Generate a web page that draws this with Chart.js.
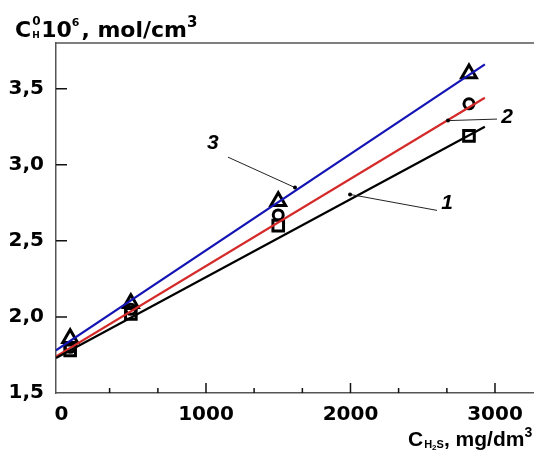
<!DOCTYPE html>
<html lang="en">
  <head>
    <meta charset="UTF-8" />
    <title>C0H vs CH2S</title>
    <script src="https://cdn.jsdelivr.net/npm/chart.js@4"></script>
    <style>
      body { margin: 0; background: #fff; }
      #wrap { width: 534px; height: 464px; }
    </style>
  </head>
  <body>
    <div id="wrap"><canvas id="chart"></canvas></div>
  </body>
  <script>
    // concentration of H2S, mg/dm3
    const concX = [60, 480, 1500, 2820];
    // C0H * 10^6, mol/cm3
    const series1 = [1.78, 2.02, 2.60, 3.19]; // squares
    const series2 = [1.80, 2.05, 2.67, 3.40]; // circles
    const series3 = [1.86, 2.09, 2.76, 3.60]; // triangles
    // fitted straight lines, endpoints
    const fitX = [-38, 2930];
    const fit1 = [1.73, 3.25];
    const fit2 = [1.74, 3.44];
    const fit3 = [1.78, 3.66];

    const xTicks = [0, 1000, 2000, 3000];
    const xMinor = [333, 667, 1333, 1667, 2333, 2667];
    const yTicks = [1.5, 2.0, 2.5, 3.0, 3.5];

    // curve labels: [text, labelX, labelY, dotX, dotY, endX, endY]
    const curveLabels = [
      ["3", 1048, 3.14, 1616, 2.85, 1152, 3.05],
      ["2", 3083, 3.31, 2675, 3.29, 3014, 3.30],
      ["1", 2668, 2.75, 1997, 2.805, 2599, 2.70],
    ];

    const pts = (xs, ys) => xs.map((x, i) => ({x: x, y: ys[i]}));

    function richText(ctx, x, y, family, parts) {
      for (const p of parts) {
        if (p.stack) {
          ctx.font = "bold 12px " + family;
          ctx.fillText(p.sup, x + 1, y - 12);
          ctx.font = "bold 9px " + family;
          ctx.fillText(p.sub, x + 1, y + 1);
          x += 10;
          continue;
        }
        ctx.font = "bold " + (p.size || 20) + "px " + family;
        ctx.fillText(p.t, x, y + (p.dy || 0));
        x += ctx.measureText(p.t).width + (p.gap || 0);
      }
    }

    const decor = {
      id: "decor",
      afterDatasetsDraw(chart) {
        const {ctx, chartArea: a, scales: {x, y}} = chart;
        ctx.save();
        // top frame line
        ctx.strokeStyle = "#555";
        ctx.lineWidth = 1.5;
        ctx.beginPath();
        ctx.moveTo(a.left, a.top);
        ctx.lineTo(a.right, a.top);
        ctx.stroke();
        // inward ticks
        ctx.strokeStyle = "#111";
        ctx.lineWidth = 1.5;
        ctx.beginPath();
        xTicks.slice(1).forEach((v) => {
          const px = x.getPixelForValue(v);
          ctx.moveTo(px, a.bottom);
          ctx.lineTo(px, a.bottom - 10);
        });
        xMinor.forEach((v) => {
          const px = x.getPixelForValue(v);
          ctx.moveTo(px, a.bottom);
          ctx.lineTo(px, a.bottom - 5);
        });
        yTicks.slice(1).forEach((v) => {
          const py = y.getPixelForValue(v);
          ctx.moveTo(a.left, py);
          ctx.lineTo(a.left + 11, py);
        });
        ctx.stroke();

        // curve labels with leader lines
        ctx.fillStyle = "#000";
        ctx.strokeStyle = "#222";
        ctx.lineWidth = 1;
        ctx.textAlign = "center";
        ctx.textBaseline = "middle";
        ctx.font = "italic bold 21px 'Liberation Sans'";
        curveLabels.forEach(([t, lx, ly, dx, dy, ex, ey]) => {
          const d = [x.getPixelForValue(dx), y.getPixelForValue(dy)];
          ctx.beginPath();
          ctx.moveTo(d[0], d[1]);
          ctx.lineTo(x.getPixelForValue(ex), y.getPixelForValue(ey));
          ctx.stroke();
          ctx.beginPath();
          ctx.arc(d[0], d[1], 2, 0, Math.PI * 2);
          ctx.fill();
          ctx.fillText(t, x.getPixelForValue(lx), y.getPixelForValue(ly));
        });

        // axis titles
        ctx.textAlign = "left";
        ctx.textBaseline = "alphabetic";
        richText(ctx, 15, 37, "'DejaVu Sans'", [
          {t: "C", size: 22},
          {stack: true, sup: "0", sub: "H"},
          {t: "10", size: 22},
          {t: "6", size: 11, dy: -11, gap: 2},
          {t: ", mol/cm", size: 22},
          {t: "3", size: 15, dy: -10},
        ]);
        richText(ctx, 408, 446, "'Liberation Sans'", [
          {t: "C", size: 21, gap: 1},
          {t: "H", size: 11, dy: 2},
          {t: "2", size: 8, dy: 4},
          {t: "S", size: 11, dy: 2},
          {t: ", mg/dm", size: 21},
          {t: "3", size: 14, dy: -9},
        ]);
        ctx.restore();
      },
    };

    const markerSet = (data, style, r) => ({
      data: data,
      pointStyle: style,
      pointRadius: r,
      borderColor: "#000",
      backgroundColor: "rgba(0,0,0,0)",
      pointBorderWidth: 3,
      showLine: false,
      order: 2,
    });
    const fitSet = (data, color) => ({
      data: data,
      borderColor: color,
      borderWidth: 2.2,
      pointRadius: 0,
      showLine: true,
      order: 1,
    });

    new Chart(document.getElementById("chart"), {
      type: "scatter",
      data: {
        datasets: [
          markerSet(pts(concX, series1), "rect", 7.5),
          markerSet(pts(concX, series2), "circle", 5),
          markerSet(pts(concX, series3), "triangle", 8.5),
          fitSet(pts(fitX, fit1), "#000000"),
          fitSet(pts(fitX, fit2), "#d42a2a"),
          fitSet(pts(fitX, fit3), "#1414b4"),
        ],
      },
      options: {
        responsive: true,
        maintainAspectRatio: false,
        animation: false,
        layout: {autoPadding: false, padding: {top: 43, right: 0, left: 0, bottom: 0}},
        plugins: {legend: {display: false}, tooltip: {enabled: false}},
        scales: {
          x: {
            type: "linear",
            min: -38,
            max: 3270,
            afterBuildTicks: (s) => { s.ticks = xTicks.map((v) => ({value: v})); },
            afterFit: (s) => { s.height = 71; s.paddingRight = 0; s.paddingLeft = 0; },
            grid: {display: false},
            border: {color: "#555", width: 1.5},
            ticks: {
              color: "#000",
              padding: 2,
              maxRotation: 0,
              font: {family: "DejaVu Sans", weight: "bold", size: 20},
              callback: (v) => String(v),
            },
          },
          y: {
            min: 1.5,
            max: 3.8,
            afterBuildTicks: (s) => { s.ticks = yTicks.map((v) => ({value: v})); },
            afterFit: (s) => { s.width = 56; s.paddingTop = 0; s.paddingBottom = 0; },
            grid: {display: false},
            border: {color: "#555", width: 1.5},
            ticks: {
              color: "#000",
              padding: 4,
              font: {family: "DejaVu Sans", weight: "bold", size: 20},
              callback: (v) => v.toFixed(1).replace(".", ","),
            },
          },
        },
      },
      plugins: [decor],
    });
  </script>
</html>
